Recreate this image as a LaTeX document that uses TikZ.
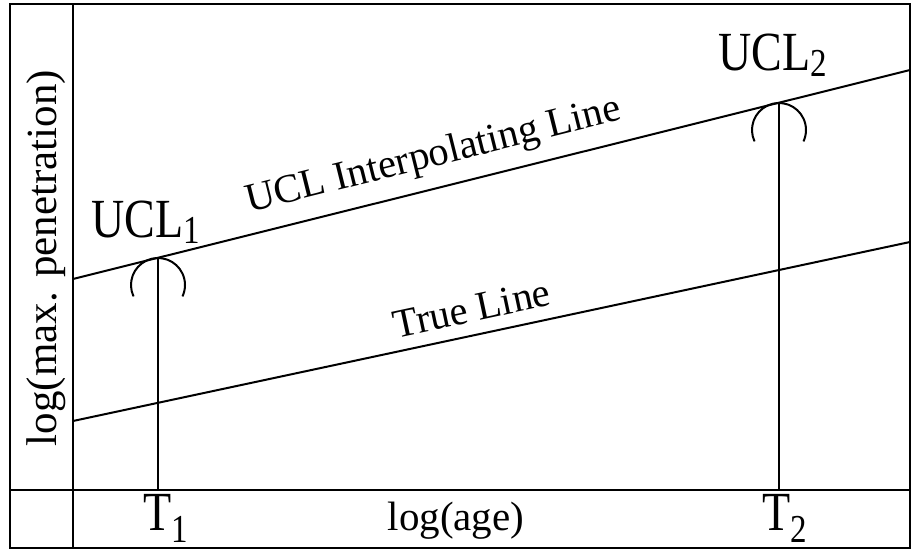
\documentclass[tikz,border=0pt]{standalone}
\usepackage{fontspec}
\setmainfont{Liberation Serif}
\newcommand{\tallbox}[1]{\scalebox{1}[1.2]{#1}}
\newcommand{\idx}[2]{\raisebox{-#1}{\fontsize{16.5}{17}\selectfont #2}}
\begin{document}
\begin{tikzpicture}[x=0.5pt,y=-0.5pt,
  frame/.style={line width=1.2pt},
  curve/.style={line width=1pt},
  tag/.style={font=\fontsize{23}{25}\selectfont, inner sep=0pt, anchor=base},
  axislabel/.style={font=\fontsize{20.5}{22}\selectfont, inner sep=0pt, anchor=base},
  linelabel/.style={font=\fontsize{20.25}{22}\selectfont, sloped, above, inner sep=6pt}]
\useasboundingbox (0,0) rectangle (912,552);
% frame and axes
\coordinate (tl) at (10,4);
\coordinate (br) at (910,548);
\coordinate (ytop) at (73,4);
\coordinate (ybot) at (73,548);
\coordinate (xl) at (10,490);
\coordinate (xr) at (910,490);
\draw[frame] (tl) rectangle (br);
\draw[frame] (ytop) -- (ybot);
\draw[frame] (xl) -- (xr);
% the two lines
\coordinate (u0) at (73,279);
\coordinate (u1) at (910,70);
\coordinate (t0) at (73,421);
\coordinate (t1) at (910,242);
\draw[curve] (u0) -- node[linelabel, pos=0.44] {UCL Interpolating Line} (u1);
\draw[curve] (t0) -- node[linelabel, pos=0.483] {True Line} (t1);
% ages T1 and T2
\coordinate (a1) at (158,490);
\coordinate (a2) at (779,490);
\coordinate (p1) at (158,258);
\coordinate (p2) at (779,103);
\coordinate (c1) at (158,285);
\coordinate (c2) at (779,130);
\draw[curve] (a1) -- (p1);
\draw[curve] (a2) -- (p2);
\draw[curve] (c1) ++(155:27) arc[start angle=155, end angle=385, radius=27];
\draw[curve] (c2) ++(155:27) arc[start angle=155, end angle=385, radius=27];
% labels
\node[tag] (ucl1) at (146,237) {\tallbox{UCL\idx{2.5pt}{1}}};
\node[tag] (ucl2) at (773,70) {\tallbox{UCL\idx{2.5pt}{2}}};
\node[tag] (tt1) at (166,530) {\tallbox{T\idx{5.4pt}{1}}};
\node[tag] (tt2) at (785,530) {\tallbox{T\idx{5.4pt}{2}}};
\node[axislabel] (xlab) at (456,530) {log(age)};
\node[axislabel, font=\fontsize{21.5}{23}\selectfont, rotate=90] (ylab) at (56,258) {log(max. penetration)};
\end{tikzpicture}
\end{document}
